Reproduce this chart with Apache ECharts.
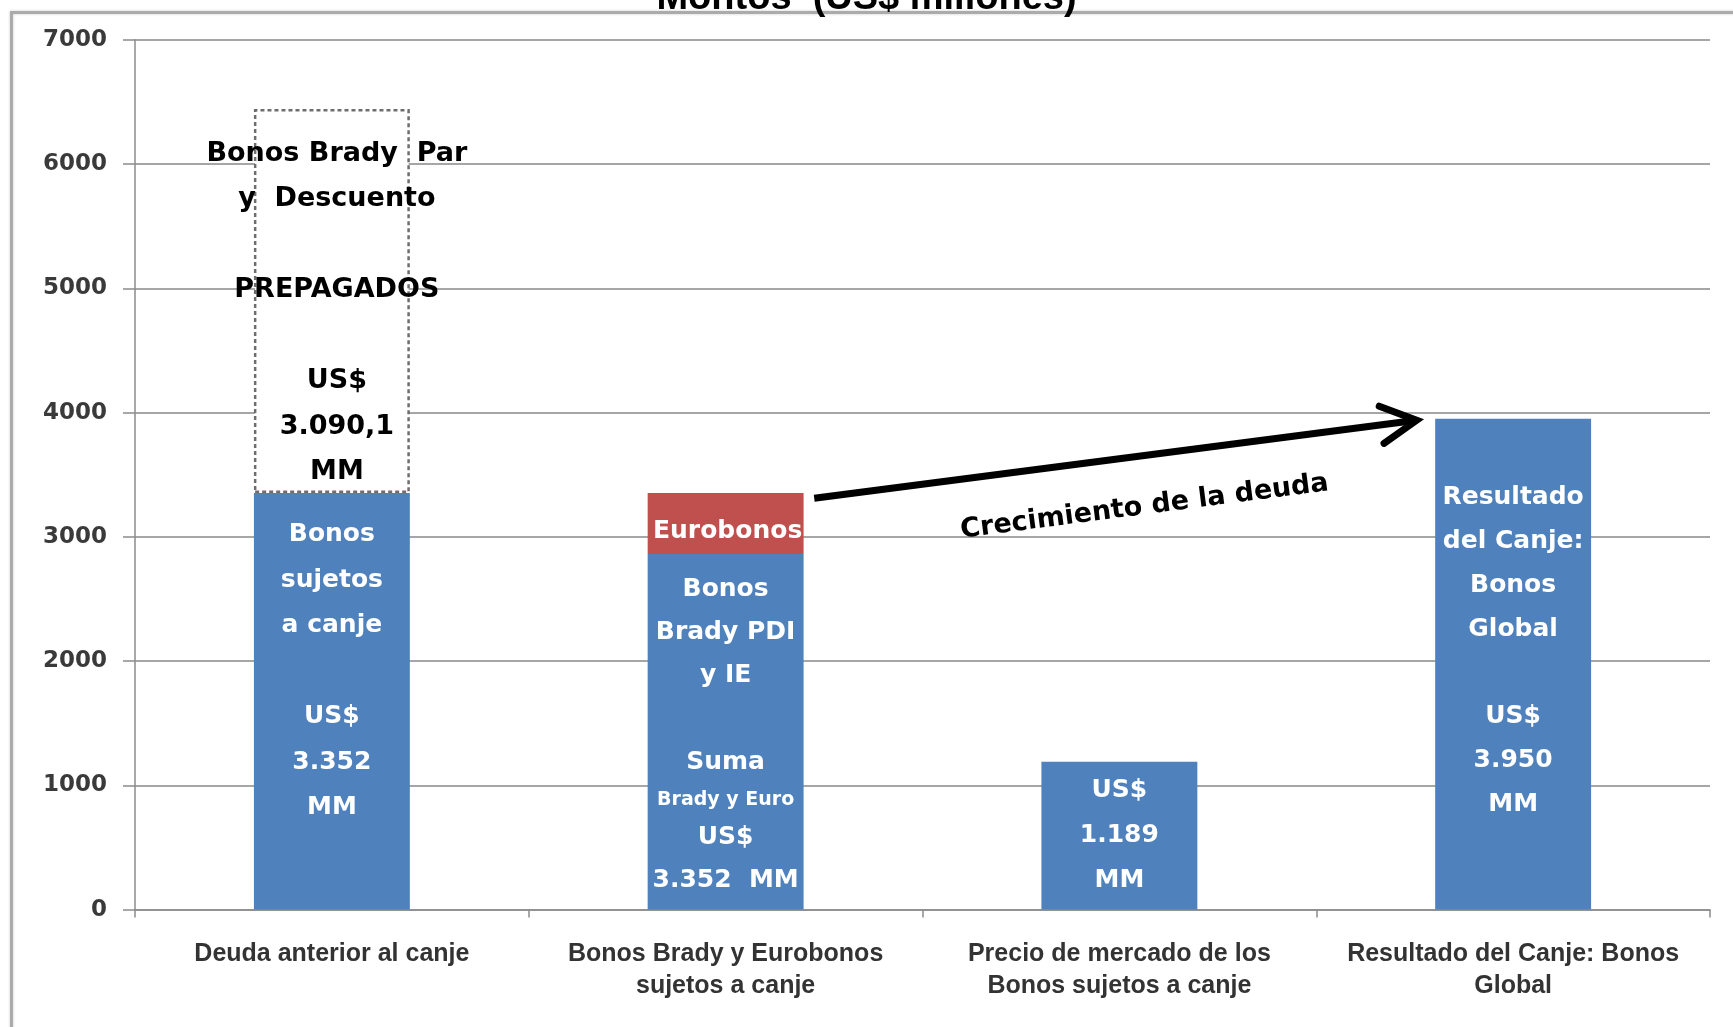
<!DOCTYPE html>
<html><head><meta charset="utf-8">
<script src="https://cdn.jsdelivr.net/npm/echarts@6/dist/echarts.min.js"></script>
<style>html,body{margin:0;padding:0;background:#fff}#c{width:1733px;height:1027px}</style>
</head><body><div id="c"></div>
<script>
// ---- data ----
const categories = [
  'Deuda anterior al canje',
  'Bonos Brady y Eurobonos\nsujetos a canje',
  'Precio de mercado de los\nBonos sujetos a canje',
  'Resultado del Canje: Bonos\nGlobal'
];
const mainValues = [3352, 2862, 1189, 3950];      // blue bars
const euroValues = [null, 490, null, null];       // Eurobonos (red)
const prepaidValues = [3090.1, null, null, null]; // dashed box (prepagados)
const yMin = 0, yMax = 7000, yStep = 1000;
const titleText = 'Montos  (US$ millones)';
const arrowLabel = 'Crecimiento de la deuda';
// annotation anchors: [category index, band offset, value]
const arrowFrom = [1, 0.225, 3311];
const arrowTo = [3, -0.245, 3938];
const arrowTextAt = [2, 0.064, 3240];

const BLUE = '#4F81BD', RED = '#C0504D';
const DV = '"DejaVu Sans", Verdana, sans-serif';

const mainLabels = [
  {position: 'insideTop', distance: 19, lh: 45.5, slh: 36,
   text: '{w|Bonos}\n{w|sujetos}\n{w|a canje}\n{w| }\n{w|US$}\n{w|3.352}\n{w|MM}'},
  {position: 'insideTop', distance: 14, lh: 43.2, slh: 32,
   text: '{w|Bonos}\n{w|Brady PDI}\n{w|y IE}\n{w| }\n{w|Suma}\n{s|Brady y Euro}\n{w|US$}\n{w|3.352  MM}'},
  {position: 'inside', distance: 0, lh: 45, slh: 36,
   text: '{w|US$}\n{w|1.189}\n{w|MM}'},
  {position: 'insideTop', distance: 57, lh: 43.8, slh: 36,
   text: '{w|Resultado}\n{w|del Canje:}\n{w|Bonos}\n{w|Global}\n{w| }\n{w|US$}\n{w|3.950}\n{w|MM}'}
];

const mainData = mainValues.map((v, i) => ({
  value: v,
  label: {
    show: true, position: mainLabels[i].position, distance: mainLabels[i].distance,
    formatter: mainLabels[i].text,
    rich: {
      w: {color: '#fff', fontFamily: DV, fontWeight: 'bold', fontSize: 25, lineHeight: mainLabels[i].lh},
      s: {color: '#fff', fontFamily: DV, fontWeight: 'bold', fontSize: 19, lineHeight: mainLabels[i].slh}
    }
  }
}));

const chart = echarts.init(document.getElementById('c'), null, {renderer: 'canvas'});
chart.setOption({
  animation: false,
  backgroundColor: '#fff',
  title: {
    text: titleText, left: 'center', top: -25,
    textStyle: {fontFamily: '"Liberation Sans", Arial, sans-serif', fontWeight: 'bold', fontSize: 38, color: '#000'}
  },
  grid: {left: 135, right: 23, top: 39.8, bottom: 117.4, containLabel: false},
  xAxis: {
    type: 'category', data: categories,
    axisLine: {lineStyle: {color: '#8c8c8c', width: 1.5}},
    axisTick: {show: true, length: 8, lineStyle: {color: '#8c8c8c', width: 1.5}},
    axisLabel: {
      margin: 28, interval: 0, color: '#333',
      fontFamily: '"Liberation Sans", Arial, sans-serif', fontWeight: 'bold', fontSize: 25, lineHeight: 32.6
    }
  },
  yAxis: {
    type: 'value', min: yMin, max: yMax, interval: yStep,
    axisLine: {show: true, lineStyle: {color: '#8c8c8c', width: 1.5}},
    axisTick: {show: true, length: 12, lineStyle: {color: '#8c8c8c', width: 1.5}},
    axisLabel: {margin: 28, color: '#3a3a3a', fontFamily: DV, fontWeight: 'bold', fontSize: 23,
      formatter: v => String(v)},
    splitLine: {lineStyle: {color: '#a6a6a6', width: 2}}
  },
  series: [
    {
      name: 'Deuda', type: 'bar', stack: 'total', barWidth: '39.6%',
      itemStyle: {color: BLUE}, data: mainData
    },
    {
      name: 'Eurobonos', type: 'bar', stack: 'total', barWidth: '39.6%',
      itemStyle: {color: RED}, data: euroValues,
      label: {show: true, position: 'inside', offset: [2, 8], formatter: 'Eurobonos',
        color: '#fff', fontFamily: DV, fontWeight: 'bold', fontSize: 25}
    },
    {
      name: 'Prepagados', type: 'bar', stack: 'total', barWidth: '39.6%',
      itemStyle: {color: '#fff', borderColor: '#6e6e6e', borderWidth: 2.5, borderType: [4, 3]},
      data: prepaidValues,
      label: {show: true, position: 'inside', offset: [5, 12],
        formatter: 'Bonos Brady  Par\ny  Descuento\n \nPREPAGADOS\n \nUS$\n3.090,1\nMM',
        color: '#000', fontFamily: DV, fontWeight: 'bold', fontSize: 27, lineHeight: 45.5}
    }
  ]
});

function px(anchor) {
  const c0 = chart.convertToPixel({gridIndex: 0}, [0, 0]);
  const c1 = chart.convertToPixel({gridIndex: 0}, [1, 0]);
  const band = c1[0] - c0[0];
  const p = chart.convertToPixel({gridIndex: 0}, [anchor[0], anchor[2]]);
  return [p[0] + anchor[1] * band, p[1]];
}
const s = px(arrowFrom), e = px(arrowTo), t = px(arrowTextAt);
const ang = Math.atan2(s[1] - e[1], s[0] - e[0]);
const wingLen = 40, wingAng = 28 * Math.PI / 180;
const w1 = [e[0] + wingLen * Math.cos(ang + wingAng), e[1] + wingLen * Math.sin(ang + wingAng)];
const w2 = [e[0] + wingLen * Math.cos(ang - wingAng), e[1] + wingLen * Math.sin(ang - wingAng)];
const textRot = Math.atan2(s[1] - e[1], e[0] - s[0]);

chart.setOption({
  graphic: [
    {type: 'rect', shape: {x: 11.5, y: 12.5, width: 1800, height: 1100},
     style: {fill: 'none', stroke: '#ababab', lineWidth: 3, shadowBlur: 3, shadowColor: 'rgba(0,0,0,0.2)'}, silent: true, z: 0},
    {type: 'line', shape: {x1: s[0], y1: s[1], x2: e[0], y2: e[1]},
     style: {stroke: '#000', lineWidth: 7, lineCap: 'butt'}, z: 50},
    {type: 'polyline', shape: {points: [w1, e, w2]},
     style: {stroke: '#000', lineWidth: 7, lineJoin: 'miter', lineCap: 'round', fill: 'none'}, z: 50},
    {type: 'text', x: t[0], y: t[1], rotation: textRot, z: 50,
     style: {text: arrowLabel, fill: '#000', fontFamily: DV, fontWeight: 'bold', fontSize: 27,
       align: 'center', verticalAlign: 'middle'}}
  ]
});
</script>
</body></html>
